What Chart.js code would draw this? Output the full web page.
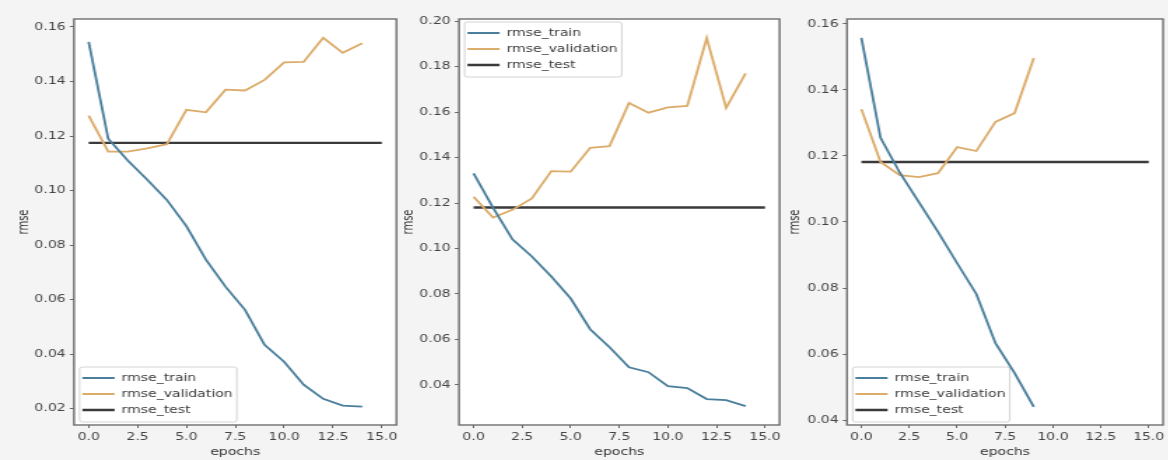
<!DOCTYPE html>
<html><head><meta charset="utf-8">
<script src="https://cdn.jsdelivr.net/npm/chart.js@4.4.1/dist/chart.umd.min.js"></script>
<style>
html,body{margin:0;padding:0;background:#f4f4f4;width:1168px;height:460px;overflow:hidden;}
.wrap{position:absolute;top:0;height:460px;transform-origin:0 0;transform:scaleX(1.4);}
canvas{display:block;}
</style></head><body>
<div class="wrap" style="left:0px;width:287px"><canvas id="c1" width="287" height="460"></canvas></div>
<div class="wrap" style="left:400px;width:275px"><canvas id="c2" width="275" height="460"></canvas></div>
<div class="wrap" style="left:785px;width:274px"><canvas id="c3" width="274" height="460"></canvas></div>
<script>
// ---- data ----
const seriesNames = ['rmse_train', 'rmse_validation', 'rmse_test'];
const epochs15 = [0,1,2,3,4,5,6,7,8,9,10,11,12,13,14];
const epochs10 = [0,1,2,3,4,5,6,7,8,9];
const testSpan = [0, 15];

const train1 = [0.1545,0.119,0.111,0.104,0.0966,0.087,0.0747,0.0648,0.0563,0.0435,0.0373,0.0289,0.0237,0.0212,0.0208];
const val1   = [0.1275,0.1143,0.1143,0.1155,0.117,0.1296,0.1287,0.137,0.1367,0.1406,0.147,0.1472,0.156,0.1505,0.154];
const test1  = 0.1175;

const train2 = [0.133,0.118,0.104,0.0965,0.0877,0.078,0.0645,0.0566,0.0478,0.0456,0.0395,0.0386,0.0338,0.0333,0.0307];
const val2   = [0.1228,0.1136,0.117,0.122,0.134,0.1338,0.1443,0.145,0.164,0.1597,0.162,0.1627,0.1925,0.1618,0.177];
const test2  = 0.118;

const train3 = [0.1558,0.1255,0.115,0.106,0.097,0.0875,0.0782,0.0633,0.0542,0.044];
const val3   = [0.1342,0.1182,0.1142,0.1136,0.1148,0.1227,0.1215,0.1303,0.133,0.1497];
const test3  = 0.1182;

const xTicks  = [0, 2.5, 5, 7.5, 10, 12.5, 15];
const xRange  = [-0.75, 15.75];
const yTicks1 = [0.02,0.04,0.06,0.08,0.10,0.12,0.14,0.16];
const yTicks2 = [0.04,0.06,0.08,0.10,0.12,0.14,0.16,0.18,0.20];
const yTicks3 = [0.04,0.06,0.08,0.10,0.12,0.14,0.16];
const yRange1 = [0.0141, 0.1629];
const yRange2 = [0.0224, 0.2009];
const yRange3 = [0.0385, 0.1615];

// ---- styling ----
const COLORS = ['#4a7f9c', '#dcac6a', '#3a3a3a'];
const WIDTHS = [1.8, 1.8, 2.4];
const FONT = {family: '"DejaVu Sans", sans-serif', size: 10};

function pts(xs, ys) { return ys.map((y, i) => ({x: xs[i], y: y})); }

const framePlugin = {
  id: 'frame',
  afterLayout(chart) {
    const o = chart.options.plugins.frame;
    const lg = chart.legend;
    if (o.legendPos === 'bottom') lg.bottom = chart.chartArea.bottom - o.legendShift;
    else lg.top = chart.chartArea.top + o.legendShift;
  },
  beforeDraw(chart) {
    const {ctx, chartArea: a} = chart;
    const o = chart.options.plugins.frame;
    ctx.save();
    ctx.fillStyle = '#ffffff';
    ctx.fillRect(a.left, a.top, a.width, a.height);
    const lg = chart.legend;
    const pad = chart.options.plugins.legend.labels.padding;
    const col = lg.columnSizes[0];
    const itemsTop = (o.legendPos === 'bottom') ? lg.bottom - col.height : lg.top + pad;
    const fx = lg.left + 4, fy = itemsTop - 6;
    const fw = col.width + 5, fh = 55;
    ctx.fillStyle = 'rgba(255,255,255,0.85)';
    ctx.strokeStyle = '#d4d4d4';
    ctx.lineWidth = 1;
    ctx.beginPath();
    ctx.roundRect(fx, fy, fw, fh, 2);
    ctx.fill();
    ctx.stroke();
    ctx.restore();
  },
  afterDraw(chart) {
    const {ctx, chartArea: a} = chart;
    ctx.save();
    ctx.strokeStyle = '#6e6e6e';
    ctx.lineWidth = 1.4;
    ctx.strokeRect(a.left, a.top, a.width, a.height);
    ctx.restore();
  }
};

function makeChart(id, p) {
  const datasets = [
    {label: seriesNames[0], data: pts(p.epochs, p.train)},
    {label: seriesNames[1], data: pts(p.epochs, p.val)},
    {label: seriesNames[2], data: pts(testSpan, testSpan.map(() => p.test))}
  ].map((d, i) => Object.assign(d, {borderColor: COLORS[i], backgroundColor: COLORS[i],
      borderWidth: WIDTHS[i], pointRadius: 0, tension: 0, fill: false}));

  return new Chart(document.getElementById(id), {
    type: 'line',
    data: {datasets},
    plugins: [framePlugin],
    options: {
      responsive: false,
      animation: false,
      devicePixelRatio: 1,
      layout: {padding: {left: 0, right: p.padRight, top: 19, bottom: 0}},
      plugins: {
        legend: {
          position: 'chartArea',
          align: p.legendPos === 'bottom' ? 'end' : 'start',
          labels: {
            usePointStyle: true, pointStyle: 'line', pointStyleWidth: 23,
            padding: 6, color: '#3a3a3a', font: FONT
          }
        },
        tooltip: {enabled: false},
        frame: {legendPos: p.legendPos, legendShift: p.legendShift}
      },
      scales: {
        x: {
          type: 'linear', min: xRange[0], max: xRange[1],
          afterBuildTicks: s => { s.ticks = xTicks.map(v => ({value: v})); },
          afterFit: s => { s.height = 35; },
          ticks: {callback: v => Number(v).toFixed(1), color: '#444', font: FONT, padding: 3, maxRotation: 0, autoSkip: false},
          grid: {drawOnChartArea: false, drawTicks: true, tickLength: 3, color: '#666'},
          border: {display: false},
          title: {display: true, text: 'epochs', color: '#333', font: FONT, padding: {top: 0, bottom: 1.5}}
        },
        y: {
          type: 'linear', min: p.yRange[0], max: p.yRange[1],
          afterBuildTicks: s => { s.ticks = p.yTicks.map(v => ({value: v})); },
          afterFit: s => { s.width = p.yAxisW; },
          ticks: {callback: v => Number(v).toFixed(2), color: '#444', font: FONT, padding: 3, autoSkip: false},
          grid: {drawOnChartArea: false, drawTicks: true, tickLength: 3, color: '#666'},
          border: {display: false},
          title: {display: true, text: 'rmse', color: '#333', font: FONT, padding: {top: p.titlePad, bottom: 0}}
        }
      }
    }
  });
}

makeChart('c1', {epochs: epochs15, train: train1, val: val1, test: test1, yTicks: yTicks1, yRange: yRange1,
  yAxisW: 52.86, padRight: 3.43, titlePad: 11, legendPos: 'bottom', legendShift: 4});
makeChart('c2', {epochs: epochs15, train: train2, val: val2, test: test2, yTicks: yTicks2, yRange: yRange2,
  yAxisW: 42.14, padRight: 3.57, titlePad: 0, legendPos: 'top', legendShift: 3});
makeChart('c3', {epochs: epochs10, train: train3, val: val3, test: test3, yTicks: yTicks3, yRange: yRange3,
  yAxisW: 44.29, padRight: 1.86, titlePad: 1, legendPos: 'bottom', legendShift: 4});
</script>
</body></html>
